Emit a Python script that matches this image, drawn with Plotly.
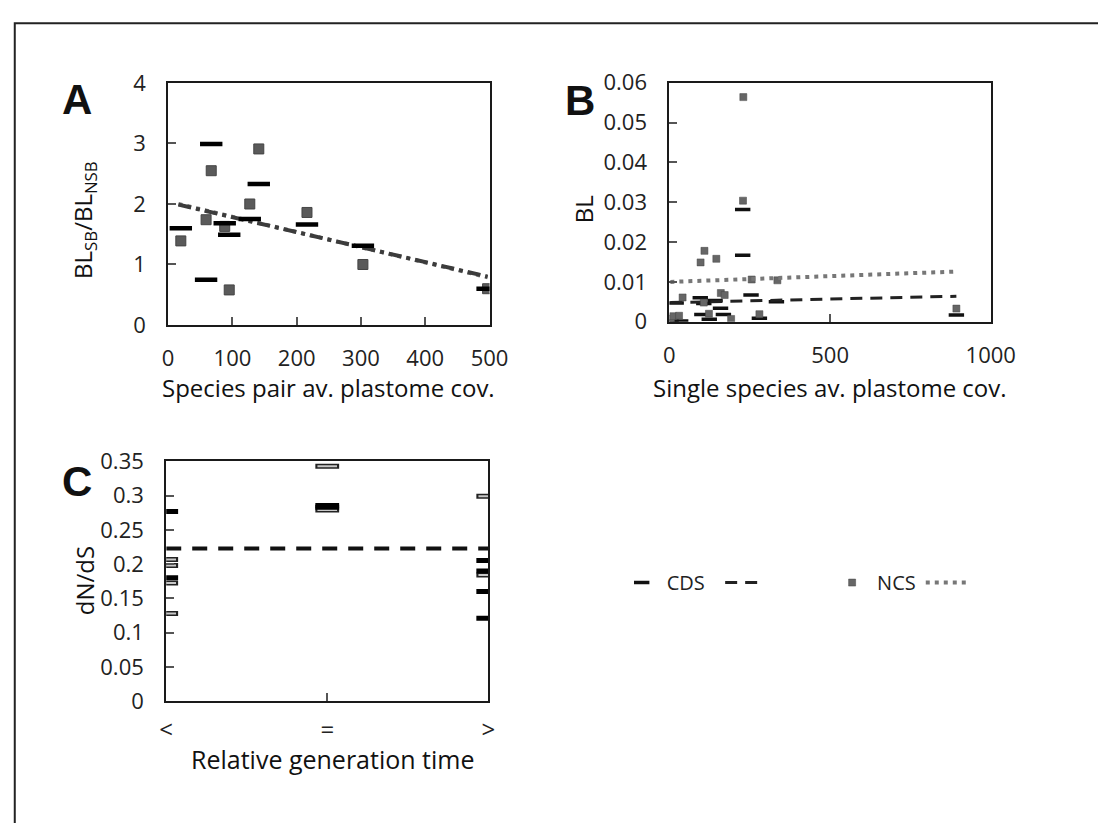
import plotly.graph_objects as go

W, H = 1098, 823

# ---------------- Panel A data ----------------
a_x = [19.7, 67, 59, 88, 95, 127, 141, 216, 303, 497]
a_cds = [1.60, 2.99, 0.75, 1.68, 1.49, 1.75, 2.33, 1.66, 1.31, 0.60]
a_ncs = [1.39, 2.55, 1.74, 1.63, 0.58, 2.00, 2.91, 1.86, 1.00, 0.60]
a_trend_x = [16, 497]
a_trend_cds = [1.99, 0.80]
a_trend_ncs = [2.00, 0.79]

# ---------------- Panel B data ----------------
b_cds_x = [5, 35, 21, 96, 101, 107, 124, 142, 159, 168, 228, 228, 254, 280, 333, 893]
b_cds_y = [0.0002, 0.0002, 0.0047, 0.0060, 0.0018, 0.0046, 0.0006, 0.0053, 0.0034, 0.0018,
           0.0282, 0.0167, 0.0067, 0.0009, 0.0050, 0.0017]
b_ncs_x = [5, 12, 30, 41, 97, 109, 107, 123, 146, 160, 172, 192, 229, 230, 256, 280, 336, 893]
b_ncs_y = [0.0008, 0.0014, 0.0015, 0.0061, 0.0149, 0.0178, 0.0048, 0.0020, 0.0158, 0.0072,
           0.0067, 0.0007, 0.0304, 0.0564, 0.0106, 0.0019, 0.0104, 0.0033]
b_trend_x = [3, 893]
b_trend_cds = [0.0048, 0.0064]
b_trend_ncs = [0.0100, 0.0126]

# ---------------- Panel C data ----------------
c_groups = ["<", "=", ">"]
c_black_cat = ["<", "<", "=", "=", ">", ">", ">", ">"]
c_black_val = [0.277, 0.180, 0.2857, 0.283, 0.2054, 0.190, 0.160, 0.121]
c_grey_cat = ["<", "<", "<", "<", "=", "=", ">", ">"]
c_grey_val = [0.2069, 0.198, 0.1726, 0.128, 0.343, 0.279, 0.299, 0.184]
c_mean_cat = ["<", ">"]
c_mean_val = [0.2227, 0.2227]

FONT = "Open Sans"
fig = go.Figure()

# legend traces (panel B)
fig.add_trace(go.Scatter(x=b_cds_x, y=b_cds_y, mode="markers", name="CDS\u00a0\u00a0", xaxis="x2", yaxis="y2",
                         marker=dict(symbol="line-ew", size=11, line=dict(width=3.5, color="#111")),
                         legendrank=1))
fig.add_trace(go.Scatter(x=b_trend_x, y=b_trend_cds, mode="lines", name="\u00a0" * 10, xaxis="x2", yaxis="y2",
                         line=dict(color="#222", width=3, dash="12px,8px"), legendrank=2))
fig.add_trace(go.Scatter(x=b_ncs_x, y=b_ncs_y, mode="markers", name="NCS", xaxis="x2", yaxis="y2",
                         marker=dict(symbol="square", size=7, color="#666", line=dict(width=0.5, color="#444")),
                         legendrank=3))
fig.add_trace(go.Scatter(x=b_trend_x, y=b_trend_ncs, mode="lines", name="\u00a0", xaxis="x2", yaxis="y2",
                         line=dict(color="#777", width=4, dash="4px,5px"), legendrank=4))

# Panel A
fig.add_trace(go.Scatter(x=a_trend_x, y=a_trend_ncs, mode="lines", showlegend=False, xaxis="x", yaxis="y",
                         line=dict(color="#777", width=4, dash="4px,5px")))
fig.add_trace(go.Scatter(x=a_trend_x, y=a_trend_cds, mode="lines", showlegend=False, xaxis="x", yaxis="y",
                         line=dict(color="#3c3c3c", width=4, dash="13px,5px,4px,5px")))
fig.add_trace(go.Scatter(x=a_x, y=a_ncs, mode="markers", showlegend=False, xaxis="x", yaxis="y",
                         marker=dict(symbol="square", size=10, color="#5a5a5a", line=dict(width=1, color="#444"))))
fig.add_trace(go.Scatter(x=a_x, y=a_cds, mode="markers", showlegend=False, xaxis="x", yaxis="y",
                         marker=dict(symbol="line-ew", size=16, line=dict(width=4.5, color="#000"))))

# Panel C
fig.add_trace(go.Scatter(x=c_mean_cat, y=c_mean_val, mode="lines", showlegend=False, xaxis="x3", yaxis="y3",
                         line=dict(color="#111", width=4, dash="15px,11px")))
fig.add_trace(go.Scatter(x=c_grey_cat, y=c_grey_val, mode="markers", showlegend=False, xaxis="x3", yaxis="y3",
                         marker=dict(symbol="line-ew", size=17, line=dict(width=5, color="#222"))))
fig.add_trace(go.Scatter(x=c_grey_cat, y=c_grey_val, mode="markers", showlegend=False, xaxis="x3", yaxis="y3",
                         marker=dict(symbol="line-ew", size=14, line=dict(width=2, color="#c8c8c8"))))
fig.add_trace(go.Scatter(x=c_black_cat, y=c_black_val, mode="markers", showlegend=False, xaxis="x3", yaxis="y3",
                         marker=dict(symbol="line-ew", size=17, line=dict(width=5, color="#000"))))

tickfont = dict(family=FONT, size=22, color="#222")
common = dict(showline=True, linecolor="#1a1a1a", linewidth=2, mirror=True, ticks="inside", ticklen=8,
              tickwidth=1.5, tickcolor="#555", showgrid=False, zeroline=False)


def px_x(a, b):
    return [a / W, b / W]


def px_y(top, bottom):
    return [1 - bottom / H, 1 - top / H]


fig.update_layout(
    width=W, height=H, margin=dict(l=0, r=0, t=0, b=0),
    paper_bgcolor="white", plot_bgcolor="white",
    xaxis=dict(domain=px_x(166, 497), range=[0, 500], tickvals=[0, 100, 200, 300, 400, 500],
               anchor="y", ticklabelstandoff=13, tickfont=tickfont, **common),
    yaxis=dict(domain=px_y(69.5, 320.7), range=[0, 4], tickvals=[0, 1, 2, 3, 4],
               anchor="x", ticklabelstandoff=16, tickfont=tickfont, **common),
    xaxis2=dict(domain=px_x(682.3, 1013.3), range=[0, 1000], tickvals=[0, 500, 1000],
                anchor="y2", ticklabelstandoff=13, tickfont=tickfont, **common),
    yaxis2=dict(domain=px_y(69.3, 317.3), range=[0, 0.06], tickvals=[0, 0.01, 0.02, 0.03, 0.04, 0.05, 0.06],
                ticktext=["0", "0.01", "0.02", "0.03", "0.04", "0.05", "0.06"],
                anchor="x2", ticklabelstandoff=16, tickfont=tickfont, **common),
    xaxis3=dict(domain=px_x(164, 495.7), type="category", categoryorder="array", categoryarray=c_groups,
                range=[0, 2], anchor="y3", ticklabelstandoff=6,
                tickfont=dict(family=FONT, size=24, color="#222"), **common),
    yaxis3=dict(domain=px_y(462.3, 711), range=[0, 0.35],
                tickvals=[0, 0.05, 0.1, 0.15, 0.2, 0.25, 0.3, 0.35],
                ticktext=["0", "0.05", "0.1", "0.15", "0.2", "0.25", "0.3", "0.35"],
                anchor="x3", ticklabelstandoff=16, tickfont=tickfont, **common),
    legend=dict(orientation="h", x=628 / W, y=1 - 588 / H, xanchor="left", yanchor="middle",
                itemwidth=40,
                font=dict(family=FONT, size=20, color="#222"), bgcolor="rgba(0,0,0,0)"),
    font=dict(family=FONT, color="#222"),
    showlegend=True,
)

ann = []


def label(text, x, y, size, angle=0, family=FONT):
    ann.append(dict(text=text, x=x / W, y=1 - y / H, xref="paper", yref="paper", showarrow=False,
                    xanchor="center", yanchor="middle", textangle=angle,
                    font=dict(family=family, size=size, color="#111")))


label("<b>A</b>", 72, 87, 42, family="Liberation Sans")
label("<b>B</b>", 590, 88, 42, family="Liberation Sans")
label("<b>C</b>", 72, 483, 42, family="Liberation Sans")
label("BL<sub>SB</sub>/BL<sub>NSB</sub>", 80, 212, 24, angle=-90)
label("Species pair av. plastome cov.", 331, 386, 24)
label("BL", 594, 201, 24, angle=-90)
label("Single species av. plastome cov.", 848, 386, 24)
label("dN/dS", 80, 586, 24, angle=-90)
label("Relative generation time", 336, 771, 25)

fig.update_layout(
    annotations=ann,
    shapes=[dict(type="rect", xref="paper", yref="paper", x0=8 / W, x1=1.05, y0=-0.05, y1=1 - 7.5 / H,
                 line=dict(color="#222", width=2), layer="below")],
)

fig.write_html("out.html", config={"displayModeBar": False},
               post_script="document.body.style.margin='0';document.body.style.overflow='hidden';")
